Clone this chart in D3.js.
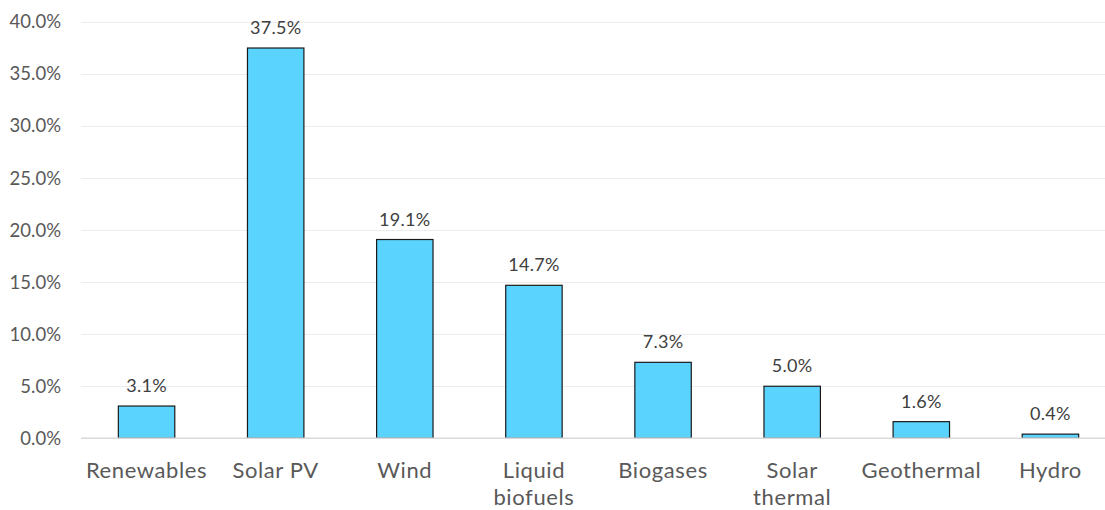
<!DOCTYPE html>
<html>
<head>
<meta charset="utf-8">
<script src="https://cdn.jsdelivr.net/npm/d3@7"></script>
<style>
  html, body { margin: 0; padding: 0; background: #fff; }
  svg { display: block; font-family: Lato, "Open Sans", sans-serif; }
</style>
</head>
<body>
<svg id="chart" width="1105" height="510"></svg>
<script>
// Share of each renewable source (percent)
const categories = ["Renewables", "Solar PV", "Wind", "Liquid biofuels", "Biogases", "Solar thermal", "Geothermal", "Hydro"];
const categoryLines = [["Renewables"], ["Solar PV"], ["Wind"], ["Liquid", "biofuels"], ["Biogases"], ["Solar", "thermal"], ["Geothermal"], ["Hydro"]];
const values = [3.1, 37.5, 19.1, 14.7, 7.3, 5.0, 1.6, 0.4];
const yTicks = [0, 5, 10, 15, 20, 25, 30, 35, 40];

const svg = d3.select("#chart");

const x = d3.scaleBand()
  .domain(categories)
  .range([82, 1115])
  .paddingInner(0.563)
  .paddingOuter(0.2815);

const y = d3.scaleLinear()
  .domain([0, 40])
  .range([438.3, 22]);

// Horizontal gridlines
svg.append("g")
  .selectAll("line")
  .data(yTicks.filter(t => t > 0))
  .join("line")
  .attr("x1", 81)
  .attr("x2", 1105)
  .attr("y1", d => Math.round(y(d)) + 0.5)
  .attr("y2", d => Math.round(y(d)) + 0.5)
  .attr("stroke", "#ececec")
  .attr("stroke-width", 1);

// Y axis tick labels
const yAxis = d3.axisLeft(y)
  .tickValues(yTicks)
  .tickSize(0)
  .tickPadding(0)
  .tickFormat(d => d.toFixed(1) + "%");

svg.append("g")
  .attr("transform", "translate(61,0)")
  .call(yAxis)
  .call(g => g.select(".domain").remove())
  .call(g => g.selectAll("text")
    .attr("fill", "#595959")
    .attr("font-size", "18.5px")
    .attr("font-family", "Lato, 'Open Sans', sans-serif"));

// Bars
svg.append("g")
  .selectAll("rect")
  .data(values)
  .join("rect")
  .attr("x", (d, i) => x(categories[i]))
  .attr("y", d => y(d))
  .attr("width", x.bandwidth())
  .attr("height", d => y(0) - y(d))
  .attr("fill", "#5AD3FE")
  .attr("stroke", "#1a1a1a")
  .attr("stroke-width", 1.2);

// Baseline axis line
svg.append("line")
  .attr("x1", 81)
  .attr("x2", 1105)
  .attr("y1", y(0))
  .attr("y2", y(0))
  .attr("stroke", "#d9d9d9")
  .attr("stroke-width", 1.5);

// Value labels
svg.append("g")
  .selectAll("text")
  .data(values)
  .join("text")
  .attr("x", (d, i) => x(categories[i]) + x.bandwidth() / 2)
  .attr("y", d => y(d) - 14)
  .attr("text-anchor", "middle")
  .attr("fill", "#404040")
  .attr("font-size", "18px")
  .attr("letter-spacing", "0.3px")
  .text(d => d.toFixed(1) + "%");

// Category labels (two-line names wrap onto a second tspan)
const cat = svg.append("g")
  .selectAll("text")
  .data(categories)
  .join("text")
  .attr("x", d => x(d) + x.bandwidth() / 2)
  .attr("y", 478)
  .attr("text-anchor", "middle")
  .attr("fill", "#595959")
  .attr("font-size", "22px")
  .attr("letter-spacing", "0.6px");

cat.selectAll("tspan")
  .data((d, i) => categoryLines[i])
  .join("tspan")
  .attr("x", function() { return d3.select(this.parentNode).attr("x"); })
  .attr("dy", (d, i) => i === 0 ? 0 : 27)
  .text(d => d);
</script>
</body>
</html>
